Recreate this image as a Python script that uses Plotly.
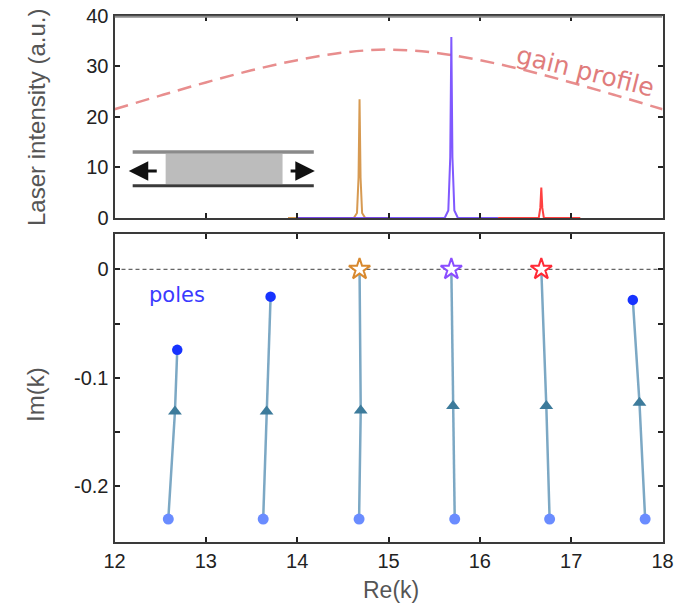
import plotly.graph_objects as go

# ---------------- data ----------------
# gain profile (top panel)
gain_re = [12.0, 12.5, 13.0, 13.5, 14.0, 14.5, 15.0, 15.5, 16.0, 16.5, 17.0, 17.5, 18.0]
gain_val = [21.5, 24.2, 26.8, 29.2, 31.2, 32.7, 33.3, 32.7, 31.2, 29.2, 26.8, 24.2, 21.5]

# lasing spectra (top panel)
spec1_re = [13.90, 14.62, 14.655, 14.672, 14.683, 14.694, 14.711, 14.745, 15.00]
spec1_val = [0, 0, 1.0, 8.0, 23.5, 8.0, 1.0, 0, 0]
spec2_re = [14.00, 15.615, 15.655, 15.676, 15.688, 15.700, 15.721, 15.76, 16.20]
spec2_val = [0, 0, 1.5, 12.0, 35.8, 12.0, 1.5, 0, 0]
spec3_re = [16.20, 16.645, 16.662, 16.673, 16.684, 16.701, 17.10]
spec3_val = [0, 0, 2.0, 6.0, 2.0, 0, 0]

# pole trajectories (bottom panel): start (bottom circle), middle (triangle), end
start_re = [12.589, 13.628, 14.678, 15.725, 16.764, 17.810]
start_im = [-0.230, -0.230, -0.230, -0.230, -0.230, -0.230]
mid_re = [12.662, 13.665, 14.696, 15.706, 16.728, 17.748]
mid_im = [-0.131, -0.131, -0.130, -0.126, -0.126, -0.123]
end_re = [12.687, 13.709, 14.683, 15.688, 16.673, 17.675]
end_im = [-0.0742, -0.0252, 0.0, 0.0, 0.0, -0.0282]
lasing = [False, False, True, True, True, False]
star_colors = ["#d8892f", "#8a4dff", "#ff2a36"]

x_ticks = [12, 13, 14, 15, 16, 17, 18]
top_y_ticks = [0, 10, 20, 30, 40]
bot_y_ticks = [0, -0.05, -0.1, -0.15, -0.2]
bot_y_text = ["0", "", "-0.1", "", "-0.2"]

W, H = 677, 605
def px_x(p):
    return p / W
def px_y(p):
    return 1 - p / H

# ---------------- figure ----------------
fig = go.Figure()

# top panel
fig.add_trace(go.Scatter(x=gain_re, y=gain_val, mode="lines",
                         line=dict(color="#e88e8e", width=2.5, dash="14px,8px", shape="spline"),
                         xaxis="x", yaxis="y", hoverinfo="skip"))
for xs, ys, col in [(spec1_re, spec1_val, "#d08a35"), (spec2_re, spec2_val, "#6a3cff"), (spec3_re, spec3_val, "#ff2020")]:
    fig.add_trace(go.Scatter(x=xs, y=ys, mode="lines", line=dict(color=col, width=2), opacity=0.85,
                             xaxis="x", yaxis="y", hoverinfo="skip"))

# bottom panel
for i in range(len(start_re)):
    fig.add_trace(go.Scatter(x=[start_re[i], mid_re[i], end_re[i]], y=[start_im[i], mid_im[i], end_im[i]],
                             mode="lines", line=dict(color="#7ca8c4", width=2.5), xaxis="x2", yaxis="y2", hoverinfo="skip"))
fig.add_trace(go.Scatter(x=mid_re, y=mid_im, mode="markers", marker=dict(symbol="triangle-up", size=12, color="#3d7b9b"),
                         xaxis="x2", yaxis="y2"))
fig.add_trace(go.Scatter(x=start_re, y=start_im, mode="markers", marker=dict(symbol="circle", size=11, color="#6a8cff"),
                         xaxis="x2", yaxis="y2"))
pole_re = [r for r, l in zip(end_re, lasing) if not l]
pole_im = [v for v, l in zip(end_im, lasing) if not l]
fig.add_trace(go.Scatter(x=pole_re, y=pole_im, mode="markers", marker=dict(symbol="circle", size=10.5, color="#1733ff"),
                         xaxis="x2", yaxis="y2"))
star_re = [r for r, l in zip(end_re, lasing) if l]
star_im = [v for v, l in zip(end_im, lasing) if l]
fig.add_trace(go.Scatter(x=star_re, y=star_im, mode="markers",
                         marker=dict(symbol="star", size=16, color="white", line=dict(color=star_colors, width=2)),
                         xaxis="x2", yaxis="y2"))

axis_common = dict(showline=True, linecolor="#3a3a3a", linewidth=2, mirror="ticks", ticks="inside", ticklen=5,
                   tickcolor="#222", tickwidth=1.5, showgrid=False, zeroline=False, automargin=False,
                   tickfont=dict(family="Liberation Sans, Arial", size=20, color="#222"))

xd = [px_x(114.5), px_x(662.5)]
fig.update_layout(
    width=W, height=H, margin=dict(l=0, r=0, t=0, b=0, pad=0, autoexpand=False), showlegend=False,
    paper_bgcolor="white", plot_bgcolor="white",
    xaxis=dict(domain=xd, range=[12, 18], tickvals=x_ticks, showticklabels=False, anchor="y", **axis_common),
    yaxis=dict(domain=[px_y(218), px_y(15.7)], range=[0, 40], tickvals=top_y_ticks, anchor="x", **axis_common),
    xaxis2=dict(domain=xd, range=[12, 18], tickvals=x_ticks, anchor="y2", **axis_common),
    yaxis2=dict(domain=[px_y(541.5), px_y(234)], range=[-0.2507, 0.0325], tickvals=bot_y_ticks,
                ticktext=bot_y_text, anchor="x2", **axis_common),
)

# zero reference line
fig.add_shape(type="line", xref="x2", yref="y2", x0=12, x1=18, y0=0, y1=0,
              line=dict(color="#666", width=1.3, dash="4px,3px"), layer="below")
# lighter, thicker top border of the upper panel
fig.add_shape(type="line", xref="x", yref="y", x0=12, x1=18, y0=40, y1=40,
              line=dict(color="#8c8c8c", width=4))

# inset schematic (cavity)
fig.add_shape(type="rect", xref="x", yref="y", x0=12.56, x1=13.84, y0=6.72, y1=12.65,
              fillcolor="#bcbcbc", line=dict(width=0))
fig.add_shape(type="line", xref="x", yref="y", x0=12.199, x1=14.182, y0=13.04, y1=13.04,
              line=dict(color="#8a8a8a", width=3.5))
fig.add_shape(type="line", xref="x", yref="y", x0=12.199, x1=14.182, y0=6.36, y1=6.36,
              line=dict(color="#3a3a3a", width=3))
fig.add_annotation(x=12.156, y=9.29, ax=12.479, ay=9.29, xref="x", yref="y", axref="x", ayref="y",
                   text="", showarrow=True, arrowhead=2, arrowsize=1.3, arrowwidth=3, arrowcolor="#111")
fig.add_annotation(x=14.193, y=9.29, ax=13.912, ay=9.29, xref="x", yref="y", axref="x", ayref="y",
                   text="", showarrow=True, arrowhead=2, arrowsize=1.3, arrowwidth=3, arrowcolor="#111")

# texts
fig.add_annotation(x=17.16, y=29.0, xref="x", yref="y", text="gain profile", showarrow=False, textangle=14,
                   xanchor="center", yanchor="middle",
                   font=dict(family="DejaVu Sans", size=25, color="#e07c7c"))
fig.add_annotation(x=12.684, y=-0.0236, xref="x2", yref="y2", text="poles", showarrow=False,
                   xanchor="center", yanchor="middle",
                   font=dict(family="DejaVu Sans", size=21, color="#3a3aff"))
fig.add_annotation(x=px_x(36), y=px_y(118), xref="paper", yref="paper", text="Laser intensity (a.u.)",
                   xanchor="center", yanchor="middle",
                   showarrow=False, textangle=-90, font=dict(family="Liberation Sans, Arial", size=24, color="#555"))
fig.add_annotation(x=px_x(35), y=px_y(395), xref="paper", yref="paper", text="Im(k)",
                   xanchor="center", yanchor="middle",
                   showarrow=False, textangle=-90, font=dict(family="Liberation Sans, Arial", size=24, color="#555"))
fig.add_annotation(x=px_x(391), y=px_y(590), xref="paper", yref="paper", text="Re(k)",
                   xanchor="center", yanchor="middle",
                   showarrow=False, font=dict(family="Liberation Sans, Arial", size=23, color="#555"))

fig.write_html("out.html", post_script="document.body.style.margin='0';",
               config={"displayModeBar": False})
